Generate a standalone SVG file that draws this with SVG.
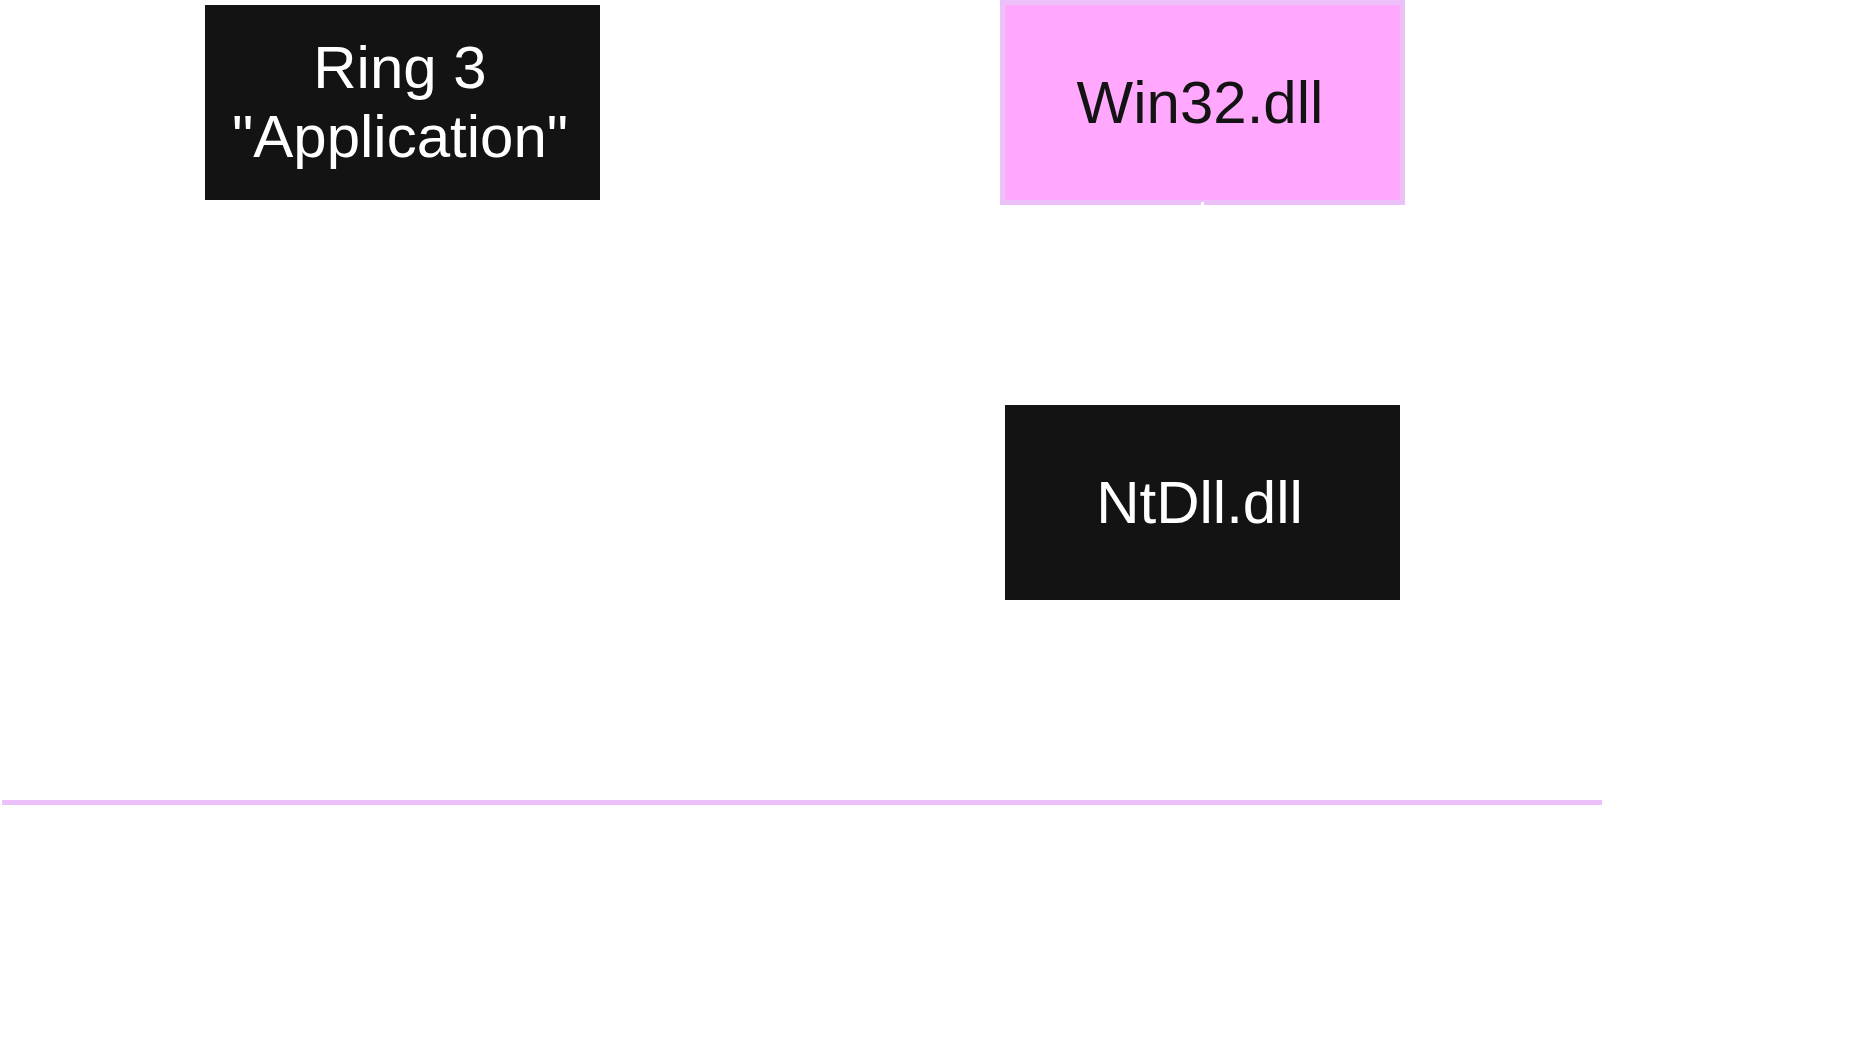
<svg xmlns="http://www.w3.org/2000/svg" width="1855" height="1045" viewBox="0 0 1855 1045">
<style>
.dark{fill:#131313}
.lbl{font-family:"Liberation Sans",Arial,sans-serif;font-size:60px;text-anchor:middle}
.w{fill:#ffffff}
.k{fill:#131313}
</style>
<rect width="1855" height="1045" fill="#ffffff"/>
<g id="node-application">
<rect class="dark" x="205" y="5" width="395" height="195"/>
<text class="lbl w" x="400" y="88">Ring 3</text>
<text class="lbl w" x="400" y="157">"Application"</text>
</g>
<g id="node-win32">
<rect x="1002.5" y="2.5" width="400" height="200" fill="#ffa8fe" stroke="#ecc0f8" stroke-width="5"/>
<text class="lbl k" x="1200" y="123">Win32.dll</text>
</g>
<g id="node-ntdll">
<rect class="dark" x="1005" y="405" width="395" height="195"/>
<text class="lbl w" x="1199.5" y="523">NtDll.dll</text>
</g>
<g id="connectors">
<line x1="1202.5" y1="202" x2="1202.5" y2="405" stroke="#ffffff" stroke-width="3"/>
<line id="ring-boundary" x1="2" y1="802.5" x2="1602" y2="802.5" stroke="#ecc0f8" stroke-width="5"/>
</g>
</svg>
